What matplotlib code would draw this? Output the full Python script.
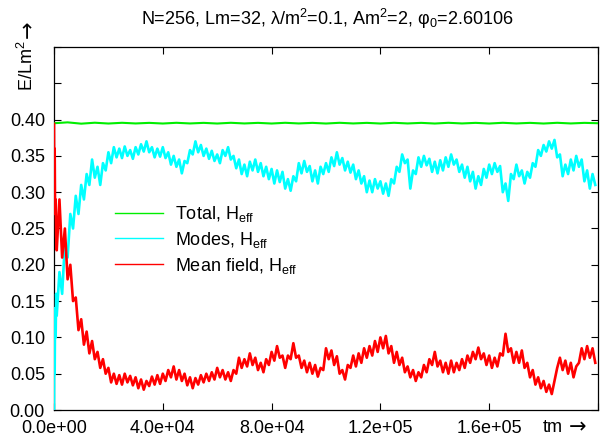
import numpy as np
import matplotlib
matplotlib.use("Agg")
import matplotlib.pyplot as plt
from matplotlib.ticker import MultipleLocator, FuncFormatter

plt.rcParams['font.family'] = ['Liberation Sans', 'DejaVu Sans']
plt.rcParams['mathtext.default'] = 'regular'

# ---------------- data ----------------
title = 'N=256, Lm=32, λ/m$^2$=0.1, Am$^2$=2, φ$_0$=2.60106'
labels = ['Total, H$_{eff}$', 'Modes, H$_{eff}$', 'Mean field, H$_{eff}$']
colors = ['#00ee00', '#00ffff', '#ff0000']

t_early = [0, 100, 250, 400, 600, 800]
modes_early = [0.0, 0.12, 0.05, 0.14, 0.10, 0.16]
mean_early = [0.394, 0.30, 0.36, 0.27, 0.29, 0.24]

step_main = 1000
modes_main = [
    0.13, 0.19, 0.16, 0.23, 0.21, 0.27, 0.25, 0.295, 0.27, 0.31,
    0.29, 0.325, 0.31, 0.345, 0.32, 0.335, 0.31, 0.34, 0.33, 0.355,
    0.34, 0.362, 0.348, 0.36, 0.347, 0.363, 0.35, 0.358, 0.346, 0.362,
    0.352, 0.366, 0.356, 0.37, 0.355, 0.362, 0.348, 0.36, 0.349, 0.362,
    0.347, 0.355, 0.338, 0.35, 0.335, 0.345, 0.326, 0.343, 0.34, 0.358,
    0.352, 0.37, 0.355, 0.365, 0.35, 0.36, 0.346, 0.357, 0.343, 0.352,
    0.34, 0.358, 0.35, 0.362, 0.345, 0.35, 0.333, 0.345, 0.325, 0.338,
    0.322, 0.342, 0.33, 0.345, 0.328, 0.34, 0.322, 0.335, 0.318, 0.332,
    0.312, 0.33, 0.314, 0.328, 0.305, 0.318, 0.302, 0.322, 0.315, 0.34,
    0.326, 0.343, 0.328, 0.336, 0.315, 0.33, 0.312, 0.335, 0.325, 0.34,
    0.328, 0.348, 0.336, 0.355, 0.338, 0.347, 0.33, 0.342, 0.327, 0.338,
    0.318, 0.33, 0.312, 0.322, 0.30, 0.316, 0.30, 0.318, 0.305, 0.315,
    0.298, 0.312, 0.295, 0.318, 0.312, 0.335, 0.328, 0.352, 0.34, 0.345,
    0.305, 0.33, 0.325, 0.348, 0.335, 0.35, 0.337, 0.346, 0.328, 0.342,
    0.326, 0.344, 0.33, 0.348, 0.335, 0.352, 0.338, 0.345, 0.328, 0.338,
    0.32, 0.335, 0.315, 0.328, 0.305, 0.322, 0.31, 0.332, 0.32, 0.338,
    0.325, 0.34, 0.328, 0.336, 0.30, 0.312, 0.288, 0.325, 0.318, 0.338,
    0.322, 0.33, 0.312, 0.328, 0.32, 0.34, 0.335, 0.358, 0.35, 0.365,
    0.356, 0.37, 0.36, 0.372, 0.348, 0.352, 0.322, 0.338, 0.325, 0.345,
    0.33, 0.35, 0.335, 0.345, 0.315, 0.33, 0.305, 0.325, 0.31,
]
mean_main = [
    0.22, 0.29, 0.21, 0.25, 0.18, 0.20, 0.15, 0.155, 0.11, 0.125,
    0.09, 0.108, 0.078, 0.095, 0.07, 0.08, 0.058, 0.07, 0.05, 0.058,
    0.038, 0.05, 0.036, 0.048, 0.035, 0.05, 0.038, 0.047, 0.034, 0.045,
    0.03, 0.042, 0.028, 0.04, 0.033, 0.046, 0.035, 0.048, 0.036, 0.05,
    0.04, 0.055, 0.045, 0.06, 0.042, 0.055, 0.04, 0.05, 0.034, 0.045,
    0.03, 0.044, 0.035, 0.048, 0.038, 0.05, 0.04, 0.052, 0.042, 0.058,
    0.045, 0.055, 0.042, 0.052, 0.04, 0.055, 0.05, 0.072, 0.058, 0.07,
    0.06, 0.078, 0.062, 0.072, 0.055, 0.065, 0.052, 0.07, 0.062, 0.08,
    0.068, 0.088, 0.072, 0.075, 0.058, 0.075, 0.07, 0.092, 0.072, 0.075,
    0.058, 0.068, 0.052, 0.065, 0.05, 0.062, 0.046, 0.058, 0.055, 0.085,
    0.07, 0.082, 0.062, 0.074, 0.05, 0.055, 0.042, 0.062, 0.058, 0.075,
    0.06, 0.078, 0.065, 0.085, 0.072, 0.088, 0.075, 0.095, 0.08, 0.10,
    0.085, 0.102, 0.078, 0.088, 0.065, 0.08, 0.062, 0.072, 0.052, 0.06,
    0.045, 0.055, 0.04, 0.052, 0.045, 0.062, 0.052, 0.07, 0.062, 0.08,
    0.06, 0.068, 0.052, 0.065, 0.05, 0.068, 0.052, 0.065, 0.055, 0.07,
    0.058, 0.075, 0.065, 0.08, 0.07, 0.086, 0.07, 0.078, 0.062, 0.075,
    0.058, 0.072, 0.06, 0.078, 0.075, 0.105, 0.08, 0.085, 0.065, 0.08,
    0.065, 0.082, 0.058, 0.065, 0.045, 0.055, 0.035, 0.045, 0.03, 0.04,
    0.025, 0.035, 0.022, 0.04, 0.058, 0.072, 0.055, 0.068, 0.05, 0.065,
    0.045, 0.06, 0.065, 0.085, 0.07, 0.088, 0.072, 0.085, 0.065,
]

step_total = 5000
total = [
    0.3950, 0.3962, 0.3944, 0.3957, 0.3946, 0.3956, 0.3947, 0.3955, 0.3946, 0.3956,
    0.3947, 0.3955, 0.3946, 0.3956, 0.3947, 0.3955, 0.3946, 0.3956, 0.3947, 0.3955,
    0.3946, 0.3956, 0.3947, 0.3955, 0.3946, 0.3956, 0.3947, 0.3955, 0.3946, 0.3956,
    0.3947, 0.3955, 0.3946, 0.3956, 0.3947, 0.3955, 0.3946, 0.3956, 0.3947, 0.3955,
    0.3950,
]

# ---------------- figure ----------------
fs = 13
fig = plt.figure(figsize=(6.0, 4.36), dpi=100)
ax = fig.add_axes([54/600, 1 - 410/436, (598-54)/600, (410-47)/436])

t_modes = np.concatenate([t_early, step_main * np.arange(1, len(modes_main) + 1)])
t_mean = np.concatenate([t_early, step_main * np.arange(1, len(mean_main) + 1)])
t_total = step_total * np.arange(len(total))

lw = 1.9
ax.plot(t_total, total, color=colors[0], lw=1.5, label=labels[0], zorder=3)
ax.plot(t_modes, modes_early + modes_main, color=colors[1], lw=lw,
        label=labels[1], zorder=3)
ax.plot(t_mean, mean_early + mean_main, color=colors[2], lw=lw,
        label=labels[2], zorder=3)

ax.set_xlim(0, 2e5)
ax.set_ylim(0, 0.5)

ax.xaxis.set_major_locator(MultipleLocator(4e4))
ax.yaxis.set_major_locator(MultipleLocator(0.05))
ax.xaxis.set_major_formatter(FuncFormatter(
    lambda v, p: ('%.1e' % v) if v < 1.8e5 else ''))
ax.yaxis.set_major_formatter(FuncFormatter(
    lambda v, p: ('%.2f' % v) if v < 0.425 else ''))

ax.tick_params(direction='in', length=5, width=0.8, top=True, right=True,
               labelsize=fs, pad=6.5, colors='#000000')
ax.tick_params(axis='x', pad=7)
for s in ax.spines.values():
    s.set_linewidth(0.9)

leg = ax.legend(loc='upper left', bbox_to_anchor=(115/600, 1 - 204/436),
                bbox_transform=fig.transFigure, frameon=False, fontsize=fs,
                handlelength=2.66, handletextpad=0.66, labelspacing=0.32,
                borderpad=0, borderaxespad=0)
for h in leg.get_lines():
    h.set_linewidth(1.0)

fig.text(327/600, 1 - 19/436, title, ha='center', va='center', fontsize=fs)
# y label with arrow
fig.text(27/600, 1 - 66/436, 'E/Lm$^2$', rotation=90,
         ha='center', va='center', fontsize=fs)
fig.text(28/600, 1 - 29/436, '→', rotation=90, ha='center', va='center',
         fontsize=15, family=['DejaVu Sans'])
# x label with arrow
fig.text(553/600, 1 - 427/436, 'tm', ha='center', va='center', fontsize=fs)
fig.text(578/600, 1 - 427/436, '→', ha='center', va='center',
         fontsize=15, family=['DejaVu Sans'])

fig.savefig('out.png', dpi=100)
